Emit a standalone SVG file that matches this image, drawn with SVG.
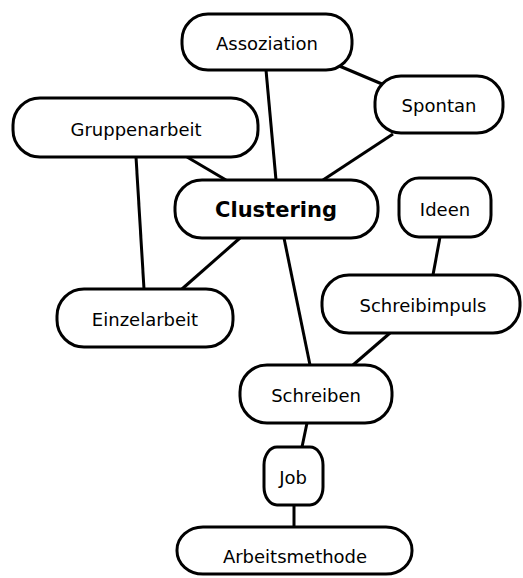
<svg xmlns="http://www.w3.org/2000/svg" width="523" height="578" viewBox="0 0 523 578">
<style>
.n{fill:#fff;stroke:#000;stroke-width:3}
.t{font-family:"DejaVu Sans",sans-serif;font-size:18px;fill:#000;text-anchor:middle;dominant-baseline:central}
.b{font-weight:bold;font-size:21px}
#edges line{stroke:#000;stroke-width:3}
</style>
<rect width="523" height="578" fill="#fff"/>
<g id="edges">
<line x1="266" y1="70" x2="276" y2="180"/>
<line x1="337" y1="65" x2="382" y2="84"/>
<line x1="393" y1="134" x2="323" y2="180"/>
<line x1="187" y1="157" x2="226" y2="180"/>
<line x1="136" y1="157" x2="144" y2="289"/>
<line x1="240" y1="238" x2="182" y2="289"/>
<line x1="284" y1="238" x2="310" y2="365"/>
<line x1="440" y1="237" x2="433" y2="275"/>
<line x1="390" y1="333" x2="353" y2="365"/>
<line x1="307" y1="423" x2="302" y2="447"/>
<line x1="294" y1="505" x2="294" y2="527"/>
</g>
<g id="assoziation"><rect class="n" x="182" y="14" width="170" height="56" rx="26" ry="26"/><text class="t" x="267" y="43">Assoziation</text></g>
<g id="spontan"><rect class="n" x="375" y="76" width="128" height="57" rx="26" ry="26"/><text class="t" x="439" y="105">Spontan</text></g>
<g id="gruppenarbeit"><rect class="n" x="13" y="98" width="245" height="59" rx="27" ry="27"/><text class="t" x="136" y="129">Gruppenarbeit</text></g>
<g id="clustering"><rect class="n" x="175" y="180" width="203" height="58" rx="27" ry="27"/><text class="t b" x="276" y="210">Clustering</text></g>
<g id="ideen"><rect class="n" x="399" y="178" width="92" height="59" rx="20" ry="22"/><text class="t" x="445" y="209">Ideen</text></g>
<g id="einzelarbeit"><rect class="n" x="57" y="289" width="176" height="58" rx="27" ry="27"/><text class="t" x="145" y="319">Einzelarbeit</text></g>
<g id="schreibimpuls"><rect class="n" x="322" y="275" width="198" height="58" rx="27" ry="27"/><text class="t" x="423" y="305">Schreibimpuls</text></g>
<g id="schreiben"><rect class="n" x="240" y="365" width="152" height="58" rx="27" ry="27"/><text class="t" x="316" y="395">Schreiben</text></g>
<g id="job"><rect class="n" x="264" y="447" width="59" height="58" rx="13" ry="18"/><text class="t" x="293" y="477">Job</text></g>
<g id="arbeitsmethode"><rect class="n" x="177" y="527" width="235" height="47" rx="26" ry="23"/><text class="t" x="295" y="556">Arbeitsmethode</text></g>
</svg>
